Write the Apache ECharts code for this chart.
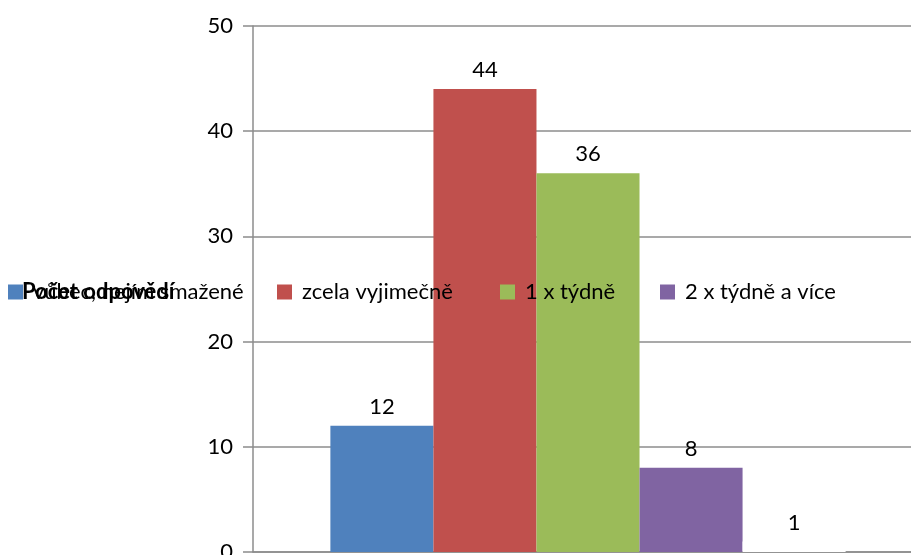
<!DOCTYPE html>
<html>
<head>
<meta charset="utf-8">
<script src="https://cdn.jsdelivr.net/npm/echarts@6/dist/echarts.min.js"></script>
<style>
  html, body { margin: 0; padding: 0; background: #fff; }
  #chart { width: 911px; height: 555px; }
</style>
</head>
<body>
<div id="chart"></div>
<script>
// Survey answers: one category, one bar per answer
const chartTitle = 'Počet odpovědí';
const categories = ['Počet odpovědí'];
const seriesNames = ['vůbec, nejím smažené', 'zcela vyjimečně', '1 x týdně', '2 x týdně a více', 'neuvedeno'];
const seriesValues = [12, 44, 36, 8, 1];
const seriesColors = ['#4F81BD', '#C0504D', '#9BBB59', '#8064A2', '#FFFFFF'];
const yTicks = { min: 0, max: 50, interval: 10 };

const FONT = 'Lato, Carlito, "DejaVu Sans", sans-serif';
const FS = 22;
const chart = echarts.init(document.getElementById('chart'), null, { renderer: 'canvas' });

const legendLefts = [8, 277, 500, 660];

const option = {
  animation: false,
  backgroundColor: '#ffffff',
  title: {
    text: chartTitle,
    left: 22,
    top: 281,
    padding: 0,
    textStyle: { fontFamily: FONT, fontSize: FS, fontWeight: 'bold', color: '#000' }
  },
  legend: legendLefts.map((x, i) => ({
    data: [seriesNames[i]],
    left: x,
    top: 281,
    padding: 0,
    icon: 'rect',
    itemWidth: 15,
    itemHeight: 15,
    textStyle: { fontFamily: FONT, fontSize: FS, color: '#000', padding: [0, 0, 0, 5] }
  })),
  grid: { left: 253, right: -12, top: 26, bottom: 3, outerBoundsMode: 'none', containLabel: false },
  xAxis: {
    type: 'category',
    data: categories,
    axisLine: { show: true, lineStyle: { color: '#8c8c8c', width: 1.5 } },
    axisTick: { show: false },
    axisLabel: { show: false }
  },
  yAxis: {
    type: 'value',
    min: yTicks.min,
    max: yTicks.max,
    interval: yTicks.interval,
    axisLine: { show: true, lineStyle: { color: '#8c8c8c', width: 1.5 } },
    axisTick: { show: true, length: 10, lineStyle: { color: '#8c8c8c', width: 1.5 } },
    axisLabel: { fontFamily: FONT, fontSize: FS, color: '#000', margin: 20 },
    splitLine: { show: true, lineStyle: { color: '#8c8c8c', width: 1.5 } }
  },
  series: seriesNames.map((name, i) => ({
    name: name,
    type: 'bar',
    data: [seriesValues[i]],
    barGap: '0%',
    barCategoryGap: '23.1%',
    itemStyle: { color: seriesColors[i] },
    label: {
      show: true,
      position: 'top',
      distance: 8,
      fontFamily: FONT,
      fontSize: FS,
      color: '#000'
    }
  }))
};

chart.setOption(option);
</script>
</body>
</html>
